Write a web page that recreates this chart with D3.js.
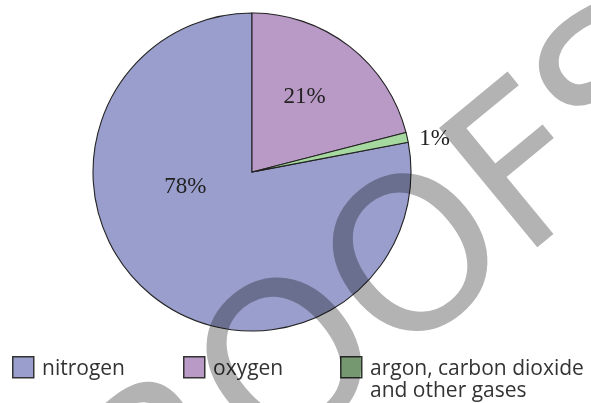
<!DOCTYPE html>
<html>
<head>
<meta charset="utf-8">
<script src="https://cdn.jsdelivr.net/npm/d3@7"></script>
<style>
  html, body { margin: 0; padding: 0; background: #fff; }
  svg { display: block; }
</style>
</head>
<body>
<svg id="chart" width="591" height="403"></svg>
<script>
// ---- data ----
const categories = ["nitrogen", "oxygen", "argon, carbon dioxide and other gases"];
const values = [78, 21, 1];
const sliceLabels = ["78%", "21%", "1%"];
const legendLines = [["nitrogen"], ["oxygen"], ["argon, carbon dioxide", "and other gases"]];
const watermarkText = "PROOFS";

// ---- style ----
const colors = ["#999ecc", "#b99ac7", "#a6d99f"];
const cx = 252, cy = 172, R = 159;
// label placement in polar coords around pie center (degrees clockwise from top, radius)
const labelPolar = [[259, 68], [34.5, 93], [79, 186]];
const legendX = [12, 183, 340];
const legendY = 356, sw = 21;

const svg = d3.select("#chart");
const g = svg.append("g").attr("transform", `translate(${cx},${cy})`);

const total = d3.sum(values);
const start = 2 * Math.PI * (values[1] + values[2]) / total;
const pie = d3.pie().sort(null).value(d => d).startAngle(start).endAngle(start + 2 * Math.PI);
const arcs = pie(values);
const arc = d3.arc().innerRadius(0).outerRadius(R);

g.selectAll("path.slice").data(arcs).join("path")
  .attr("class", "slice")
  .attr("d", arc)
  .attr("fill", (d, i) => colors[i])
  .attr("stroke", "#222")
  .attr("stroke-width", 1.1)
  .attr("stroke-linejoin", "round");

g.selectAll("text.lbl").data(sliceLabels).join("text")
  .attr("class", "lbl")
  .attr("x", (d, i) => labelPolar[i][1] * Math.sin(labelPolar[i][0] * Math.PI / 180))
  .attr("y", (d, i) => -labelPolar[i][1] * Math.cos(labelPolar[i][0] * Math.PI / 180))
  .attr("dy", "0.35em")
  .attr("text-anchor", "middle")
  .attr("font-family", "'Liberation Serif', 'Times New Roman', serif")
  .attr("font-size", 23)
  .attr("fill", "#222")
  .text(d => d);

// legend
const lg = svg.append("g");
categories.forEach((c, i) => {
  lg.append("rect")
    .attr("x", legendX[i] + 0.75).attr("y", legendY + 0.75)
    .attr("width", sw).attr("height", sw)
    .attr("fill", colors[i]).attr("stroke", "#333").attr("stroke-width", 1.5);
  const t = lg.append("text")
    .attr("x", legendX[i] + 30).attr("y", legendY + 18.5)
    .attr("font-family", "'Open Sans', 'Noto Sans', sans-serif")
    .attr("font-size", 21)
    .attr("fill", "#333");
  legendLines[i].forEach((line, j) => {
    t.append("tspan").attr("x", legendX[i] + 30).attr("dy", j === 0 ? 0 : 22).text(line);
  });
});

// watermark: place so that the second "O" sits where it does in the reference
const wmSize = 212, wmAngle = -39.5, o2Target = [409, 253];
const wm = svg.append("text")
  .attr("font-family", "'DejaVu Sans', sans-serif")
  .attr("font-size", wmSize)
  .attr("letter-spacing", -3)
  .attr("fill", "#b3b3b3")
  .style("mix-blend-mode", "multiply")
  .text(watermarkText);
let uc = 480;
try {
  const n = wm.node();
  uc = (n.getStartPositionOfChar(3).x + n.getEndPositionOfChar(3).x) / 2;
} catch (e) {}
const a = wmAngle * Math.PI / 180;
const lx = uc, ly = -0.364 * wmSize;
const tx = o2Target[0] - (lx * Math.cos(a) - ly * Math.sin(a));
const ty = o2Target[1] - (lx * Math.sin(a) + ly * Math.cos(a));
wm.attr("transform", `translate(${tx},${ty}) rotate(${wmAngle})`);
</script>
</body>
</html>
